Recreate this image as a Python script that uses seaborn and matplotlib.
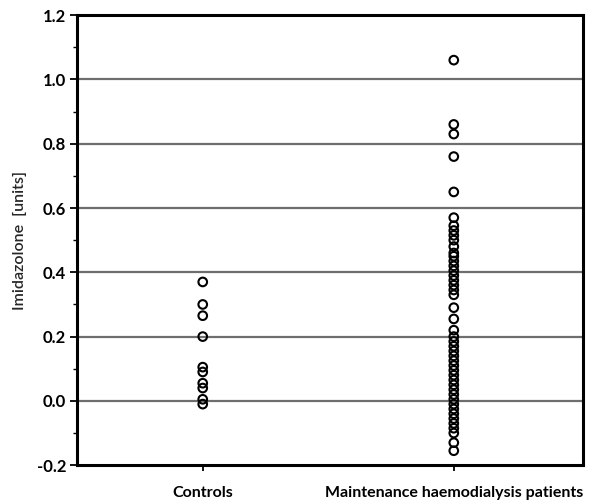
import matplotlib
matplotlib.use("Agg")
import matplotlib.pyplot as plt
import numpy as np
import pandas as pd
import seaborn as sns
from matplotlib.ticker import MultipleLocator

groups = ["Controls", "Maintenance haemodialysis patients"]

controls = [0.37, 0.30, 0.265, 0.20, 0.105, 0.09, 0.055, 0.04, 0.005, -0.01]

haemodialysis = [1.06, 0.86, 0.83, 0.76, 0.65,
                 0.57, 0.545, 0.53, 0.515, 0.50, 0.48, 0.46, 0.45, 0.435,
                 0.42, 0.405, 0.39, 0.375, 0.36, 0.345, 0.33,
                 0.29, 0.255, 0.22,
                 0.20, 0.185, 0.17, 0.155, 0.14, 0.125, 0.11, 0.095, 0.08,
                 0.065, 0.05, 0.035, 0.02, 0.005, -0.01, -0.025, -0.04,
                 -0.055, -0.07, -0.085, -0.10, -0.13, -0.155]

y_ticks = [-0.2, 0.0, 0.2, 0.4, 0.6, 0.8, 1.0, 1.2]

df = pd.DataFrame({
    "group": [groups[0]] * len(controls) + [groups[1]] * len(haemodialysis),
    "value": controls + haemodialysis,
})

sns.set_style("white")
plt.rcParams["font.family"] = ["Lato", "DejaVu Sans"]
plt.rcParams["text.color"] = "black"
plt.rcParams["xtick.color"] = "black"
plt.rcParams["ytick.color"] = "black"

fig = plt.figure(figsize=(6.08, 5.04), dpi=100)
ax = fig.add_axes([0.127, 0.077, 0.832, 0.893])

# horizontal reference lines at the labelled levels
for yv in y_ticks[1:-1]:
    ax.axhline(yv, color="#6e6e6e", lw=1.6, zorder=1)

sns.stripplot(data=df, x="group", y="value", order=groups, jitter=False,
              marker="o", size=6.2, linewidth=1.5, color="black", ax=ax, zorder=3)
for coll in ax.collections:
    coll.set_facecolor("none")
    coll.set_edgecolor("black")
    coll.set_linewidth(1.5)

ax.set_xlim(-0.5, 1.515)
ax.set_ylim(-0.2, 1.2)
ax.set_yticks(y_ticks)
ax.set_yticklabels([f"{v:.1f}" for v in y_ticks], fontsize=12, fontweight="bold")
ax.yaxis.set_minor_locator(MultipleLocator(0.1))
ax.tick_params(axis="y", which="major", direction="out", length=5, width=1.3, left=True, right=False, pad=3)
ax.tick_params(axis="y", which="minor", direction="out", length=3, width=1.0, left=True)
ax.tick_params(axis="x", direction="out", length=4, width=1.3, bottom=True, pad=11)
ax.set_xticklabels(groups, fontsize=11.5, fontweight="bold")
ax.get_xticklabels()[1].set_x(1.02)

ax.set_xlabel("")
ax.set_ylabel("Imidazolone  [units]", fontsize=11.5, fontweight="semibold", labelpad=7)

for side in ["left", "right", "top", "bottom"]:
    ax.spines[side].set_visible(True)
    ax.spines[side].set_color("black")
    ax.spines[side].set_linewidth(2.2)

fig.savefig("out.png", dpi=100, facecolor="white")
